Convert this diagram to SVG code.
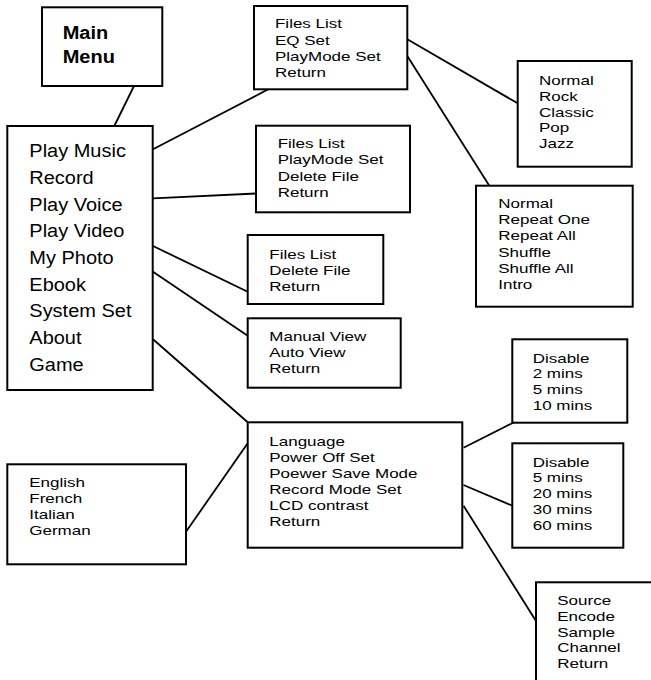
<svg xmlns="http://www.w3.org/2000/svg" width="651" height="680" viewBox="0 0 651 680">
<style>
rect{fill:#fff;stroke:#000;stroke-width:2}
#connectors line{stroke:#000;stroke-width:1.8}
text{font-family:"Liberation Sans",Arial,sans-serif;fill:#000}
.s{font-size:17px}
.m{font-size:20px}
.b{font-size:20px;font-weight:bold}
</style>
<rect x="0" y="0" width="651" height="680" style="stroke:none"/>
<g id="connectors">
<line x1="134" y1="86" x2="114.3" y2="126"/>
<line x1="153" y1="149.3" x2="268.3" y2="89.3"/>
<line x1="407.3" y1="39.3" x2="517.7" y2="103.3"/>
<line x1="407.3" y1="56" x2="489.3" y2="185.7"/>
<line x1="153" y1="198.3" x2="256" y2="193.5"/>
<line x1="153" y1="246" x2="247.7" y2="291.7"/>
<line x1="153" y1="271.7" x2="247.7" y2="335.7"/>
<line x1="153" y1="339.3" x2="247.7" y2="422.3"/>
<line x1="247.7" y1="443.3" x2="186" y2="531.7"/>
<line x1="463.5" y1="447.7" x2="513.3" y2="422.7"/>
<line x1="463.5" y1="485" x2="512.3" y2="505.7"/>
<line x1="463.5" y1="505.7" x2="536" y2="621"/>
</g>
<g id="main-menu">
<rect x="42" y="7.3" width="120.3" height="78.7"/>
<text class="b" transform="translate(62.7,39.3) scale(1,0.92)"><tspan x="0" y="0">Main</tspan><tspan x="0" y="26.1">Menu</tspan></text>
</g>
<g id="main-list">
<rect x="7.3" y="126" width="145.4" height="264"/>
<text class="m" transform="translate(29.3,157.3) scale(1,0.93)"><tspan x="0" y="0">Play Music</tspan><tspan x="0" y="28.68">Record</tspan><tspan x="0" y="57.36">Play Voice</tspan><tspan x="0" y="86.04">Play Video</tspan><tspan x="0" y="114.72">My Photo</tspan><tspan x="0" y="143.4">Ebook</tspan><tspan x="0" y="172.08">System Set</tspan><tspan x="0" y="200.76">About</tspan><tspan x="0" y="229.44">Game</tspan></text>
</g>
<g id="music-menu">
<rect x="254" y="6" width="153.3" height="83.3"/>
<text class="s" transform="translate(275,28.3) scale(1,0.8)"><tspan x="0" y="0">Files List</tspan><tspan x="0" y="20.4">EQ Set</tspan><tspan x="0" y="40.8">PlayMode Set</tspan><tspan x="0" y="61.2">Return</tspan></text>
</g>
<g id="eq-menu">
<rect x="517.7" y="61" width="114" height="105.7"/>
<text class="s" transform="translate(539,85) scale(1,0.8)"><tspan x="0" y="0">Normal</tspan><tspan x="0" y="19.75">Rock</tspan><tspan x="0" y="39.5">Classic</tspan><tspan x="0" y="59.25">Pop</tspan><tspan x="0" y="79">Jazz</tspan></text>
</g>
<g id="playmode-menu">
<rect x="476" y="185.7" width="156.7" height="121"/>
<text class="s" transform="translate(498.3,208.3) scale(1,0.8)"><tspan x="0" y="0">Normal</tspan><tspan x="0" y="20.1">Repeat One</tspan><tspan x="0" y="40.2">Repeat All</tspan><tspan x="0" y="60.3">Shuffle</tspan><tspan x="0" y="80.4">Shuffle All</tspan><tspan x="0" y="100.5">Intro</tspan></text>
</g>
<g id="voice-menu">
<rect x="256" y="125.7" width="154" height="86.6"/>
<text class="s" transform="translate(277.7,148) scale(1,0.8)"><tspan x="0" y="0">Files List</tspan><tspan x="0" y="20.4">PlayMode Set</tspan><tspan x="0" y="40.8">Delete File</tspan><tspan x="0" y="61.2">Return</tspan></text>
</g>
<g id="video-menu">
<rect x="247.7" y="235" width="135.6" height="69"/>
<text class="s" transform="translate(269.3,259) scale(1,0.8)"><tspan x="0" y="0">Files List</tspan><tspan x="0" y="20">Delete File</tspan><tspan x="0" y="40">Return</tspan></text>
</g>
<g id="photo-menu">
<rect x="247.7" y="318.3" width="153" height="69.4"/>
<text class="s" transform="translate(269.3,341) scale(1,0.8)"><tspan x="0" y="0">Manual View</tspan><tspan x="0" y="20.2">Auto View</tspan><tspan x="0" y="40.4">Return</tspan></text>
</g>
<g id="system-menu">
<rect x="247.7" y="422.3" width="214.6" height="125.4"/>
<text class="s" transform="translate(269.3,445.7) scale(1,0.8)"><tspan x="0" y="0">Language</tspan><tspan x="0" y="20">Power Off Set</tspan><tspan x="0" y="40">Poewer Save Mode</tspan><tspan x="0" y="60">Record Mode Set</tspan><tspan x="0" y="80">LCD contrast</tspan><tspan x="0" y="100">Return</tspan></text>
</g>
<g id="language-menu">
<rect x="7.3" y="464.3" width="178.7" height="100"/>
<text class="s" transform="translate(29.3,487.3) scale(1,0.8)"><tspan x="0" y="0">English</tspan><tspan x="0" y="20">French</tspan><tspan x="0" y="40">Italian</tspan><tspan x="0" y="60">German</tspan></text>
</g>
<g id="poweroff-menu">
<rect x="512.3" y="339.3" width="115" height="83.4"/>
<text class="s" transform="translate(532.7,362.7) scale(1,0.8)"><tspan x="0" y="0">Disable</tspan><tspan x="0" y="19.75">2 mins</tspan><tspan x="0" y="39.5">5 mins</tspan><tspan x="0" y="59.25">10 mins</tspan></text>
</g>
<g id="powersave-menu">
<rect x="512.3" y="443.3" width="111" height="104.4"/>
<text class="s" transform="translate(532.7,466.7) scale(1,0.8)"><tspan x="0" y="0">Disable</tspan><tspan x="0" y="19.75">5 mins</tspan><tspan x="0" y="39.5">20 mins</tspan><tspan x="0" y="59.25">30 mins</tspan><tspan x="0" y="79">60 mins</tspan></text>
</g>
<g id="record-menu">
<rect x="536" y="582.3" width="130" height="110"/>
<text class="s" transform="translate(557.3,605) scale(1,0.8)"><tspan x="0" y="0">Source</tspan><tspan x="0" y="19.75">Encode</tspan><tspan x="0" y="39.5">Sample</tspan><tspan x="0" y="59.25">Channel</tspan><tspan x="0" y="79">Return</tspan></text>
</g>
</svg>
